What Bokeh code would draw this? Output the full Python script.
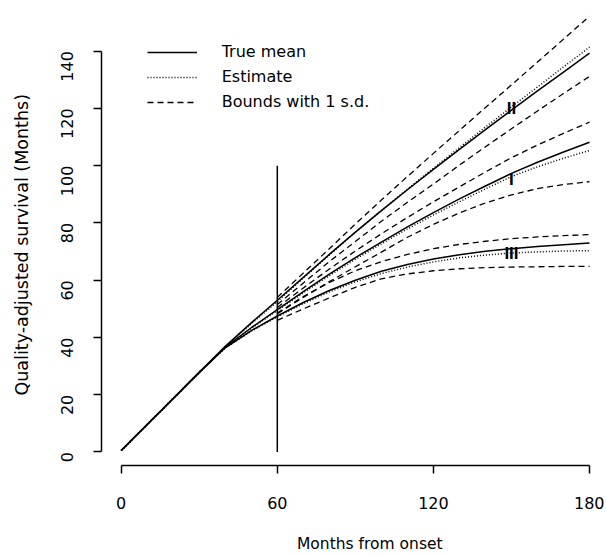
import math
from bokeh.plotting import figure
from bokeh.models import (Range1d, FixedTicker, Legend, LegendItem, Title, ColumnDataSource,
                          LinearAxis)
from bokeh.core.properties import value
from bokeh.embed import file_html
from bokeh.resources import INLINE

# ---- data ----
months = [0, 10, 20, 30, 40, 50, 60, 70, 80, 90, 100, 110, 120, 130, 140, 150, 160, 170, 180]
months_bounds = [60, 70, 80, 90, 100, 110, 120, 130, 140, 150, 160, 170, 180]

ii_true = [0.5, 9.6, 18.7, 27.8, 36.9, 45.1, 53.0, 61.0, 69.0, 76.8, 84.3, 91.6, 98.7, 105.7, 112.6, 119.4, 126.1, 132.7, 139.3]
ii_est = [0.5, 9.6, 18.7, 27.8, 36.8, 44.8, 52.5, 60.8, 68.8, 76.7, 84.3, 91.8, 99.1, 106.3, 113.5, 120.5, 127.5, 134.5, 141.4]
ii_upper = [54.0, 62.5, 71.0, 79.6, 88.0, 96.2, 104.3, 112.3, 120.3, 128.2, 136.2, 144.2, 152.2]
ii_lower = [51.5, 59.0, 66.5, 73.5, 80.6, 87.2, 93.6, 100.2, 106.6, 112.9, 119.1, 125.2, 131.2]

i_true = [0.5, 9.6, 18.7, 27.8, 36.6, 43.4, 49.7, 56.0, 62.1, 67.9, 73.3, 78.6, 83.6, 88.4, 92.9, 97.3, 101.2, 104.8, 108.2]
i_est = [0.5, 9.6, 18.7, 27.8, 36.5, 43.2, 49.4, 55.6, 61.6, 67.3, 72.7, 77.9, 82.8, 87.4, 91.9, 96.2, 99.6, 102.6, 105.3]
i_upper = [50.5, 57.3, 63.9, 70.2, 76.2, 81.9, 87.4, 92.6, 97.8, 102.8, 107.2, 111.3, 115.2]
i_lower = [48.3, 54.0, 59.5, 64.7, 69.8, 75.0, 79.5, 83.5, 87.0, 89.8, 92.0, 93.4, 94.4]

iii_true = [0.5, 9.6, 18.7, 27.8, 36.4, 42.4, 47.5, 52.2, 56.4, 60.0, 63.1, 65.5, 67.4, 68.9, 70.1, 71.0, 71.8, 72.4, 73.0]
iii_est = [0.5, 9.6, 18.7, 27.8, 36.3, 42.2, 47.2, 51.8, 55.9, 59.4, 62.3, 64.6, 66.4, 67.8, 68.8, 69.5, 69.9, 70.2, 70.3]
iii_upper = [48.5, 54.3, 59.2, 63.3, 66.5, 69.0, 71.0, 72.5, 73.6, 74.5, 75.1, 75.6, 75.9]
iii_lower = [46.0, 50.0, 53.8, 57.5, 60.5, 62.2, 63.3, 64.0, 64.4, 64.6, 64.7, 64.8, 64.8]

group_names = ["II", "I", "III"]
group_label_x = [150, 150, 150]
group_label_y = [119.9, 95.1, 69.4]

cutoff_month = 60
cutoff_top = 100

x_ticks = [0, 60, 120, 180]
y_ticks = [0, 20, 40, 60, 80, 100, 120, 140]

legend_names = ["True mean", "Estimate", "Bounds with 1 s.d."]
x_title = "Months from onset"
y_title = "Quality-adjusted survival (Months)"

FONT = "DejaVu Sans"

p = figure(width=604, height=553,
           x_range=Range1d(-7.57, 185.75), y_range=Range1d(-4.72, 154.2),
           output_backend="svg", toolbar_location=None,
           min_border_left=101, min_border_right=0, min_border_top=10, min_border_bottom=88)
p.outline_line_color = None
p.xgrid.visible = False
p.ygrid.visible = False
p.background_fill_color = "white"
p.border_fill_color = "white"

SOLID_W = 1.5
DOT = "1 2"
DASH = "6 4"

true_r = []
for arr in (ii_true, i_true, iii_true):
    true_r.append(p.line(months, arr, line_color="black", line_width=SOLID_W))
est_r = []
for arr in (ii_est, i_est, iii_est):
    est_r.append(p.line(months, arr, line_color="black", line_width=1.5, line_dash=DOT))
bnd_r = []
for arr in (ii_upper, ii_lower, i_upper, i_lower, iii_upper, iii_lower):
    bnd_r.append(p.line(months_bounds, arr, line_color="black", line_width=1.3, line_dash=DASH))

p.segment(x0=[cutoff_month], y0=[0], x1=[cutoff_month], y1=[cutoff_top],
          line_color="black", line_width=1.5)

src = ColumnDataSource(dict(x=group_label_x, y=group_label_y, t=group_names))
p.text(x="x", y="y", text="t", source=src, text_font=value("Liberation Sans"),
       text_font_style="bold", text_font_size="17px", text_align="center",
       text_baseline="middle", text_color="black")

for ax in (p.xaxis[0], p.yaxis[0]):
    ax.axis_line_width = 1.5
    ax.axis_line_color = "black"
    ax.major_tick_line_width = 1.5
    ax.major_tick_line_color = "black"
    ax.major_tick_out = 8
    ax.major_tick_in = 0
    ax.minor_tick_line_color = None
    ax.major_label_text_font = FONT
    ax.major_label_text_font_size = "16px"
    ax.major_label_text_color = "black"
    ax.axis_label = None

p.xaxis.bounds = (0, 180)
p.xaxis.ticker = FixedTicker(ticks=x_ticks)
p.xaxis.major_label_standoff = 23

p.yaxis.bounds = (0, 140)
p.yaxis.ticker = FixedTicker(ticks=y_ticks)
p.yaxis.major_label_orientation = math.pi / 2
p.yaxis.major_label_standoff = 26


def spacer(size, where):
    # a blank (white-on-white) axis that only reserves room between an axis and its title
    return LinearAxis(ticker=FixedTicker(ticks=[where]), axis_line_color=None,
                      major_tick_line_color="white", major_tick_line_width=1,
                      minor_tick_line_color=None,
                      major_tick_out=size, major_tick_in=0, minor_tick_out=0, minor_tick_in=0,
                      major_label_standoff=0, major_label_text_color=None, axis_label=None)


p.add_layout(spacer(21, -5), "below")
p.add_layout(spacer(21, 150), "left")

xt = Title(text=x_title, align="left", offset=195.5, standoff=0, vertical_align="bottom",
           text_font=FONT, text_font_size="15.5px", text_font_style="normal", text_color="black")
p.add_layout(xt, "below")

yt = Title(text=y_title, align="left", offset=70, standoff=0, vertical_align="bottom",
           text_font=FONT, text_font_size="17.5px", text_font_style="normal", text_color="black")
p.add_layout(yt, "left")

legend = Legend(items=[LegendItem(label=legend_names[0], renderers=[true_r[0]]),
                       LegendItem(label=legend_names[1], renderers=[est_r[0]]),
                       LegendItem(label=legend_names[2], renderers=[bnd_r[0]])],
                location=(45.7, 353.5), border_line_color=None, background_fill_alpha=0,
                padding=0, margin=0, glyph_width=50, glyph_height=20, label_height=20,
                label_standoff=25, spacing=5, label_text_font=FONT,
                label_text_font_size="16px", label_text_color="black")
p.add_layout(legend)

open("out.html", "w").write(file_html(p, INLINE))
